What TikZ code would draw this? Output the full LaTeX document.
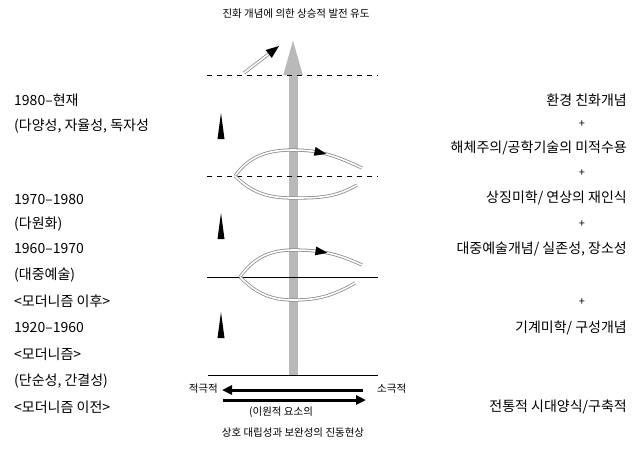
\documentclass[tikz,border=0pt]{standalone}
\usepackage{fontspec}
\setmainfont{Noto Sans CJK KR}
\usetikzlibrary{arrows.meta,decorations.markings}
\begin{document}
\begin{tikzpicture}[x=1pt,y=-1pt,
  lbl/.style={font=\fontsize{14}{16}\selectfont, inner sep=0pt, anchor=west},
  rlbl/.style={font=\fontsize{14}{16}\selectfont, inner sep=0pt, anchor=east},
  plus/.style={font=\fontsize{11}{12}\selectfont, inner sep=0pt},
  small/.style={font=\fontsize{10.5}{12}\selectfont, inner sep=0pt},
  loopline/.style={draw=gray!90, double=white, double distance=1.6pt, line width=0.8pt},
  headmark/.style={postaction={decorate, decoration={markings,
      mark=at position #1 with {\fill[black] (-6pt,-4.5pt) -- (6pt,0pt) -- (-6pt,4.5pt) -- cycle;}}}},
  endhead/.style={decoration={markings,
      mark=at position 1 with {\fill[black] (-13pt,-5pt) -- (0pt,0pt) -- (-13pt,5pt) -- cycle;}}, decorate},
  spike/.style={fill=black},
  dashln/.style={dash pattern=on 5pt off 5pt, line width=0.6pt},
  bigarrow/.style={line width=3pt, -{Triangle[length=10pt,width=9pt]}}
]
\useasboundingbox (0,0) rectangle (640,451);

% central shaft
\coordinate (base) at (293,375);
\coordinate (apex) at (293,33);
\draw[line width=9pt, gray!55, -{Triangle[length=42pt,width=16pt]}] (base) -- (apex);

% horizontal lines
\coordinate (d1l) at (207,75);  \coordinate (d1r) at (378,75);
\coordinate (d2l) at (207,176); \coordinate (d2r) at (378,176);
\coordinate (s1l) at (207,277); \coordinate (s1r) at (378,277);
\coordinate (s2l) at (208,375); \coordinate (s2r) at (378,375);
\draw[dashln] (d1l) -- (d1r);
\draw[dashln] (d2l) -- (d2r);
\draw[line width=0.7pt] (s1l) -- (s1r);
\draw[line width=0.8pt] (s2l) -- (s2r);

% small diagonal arrow at top
\coordinate (sa) at (244,73);
\coordinate (sb) at (279,46);
\draw[loopline, shorten >=10pt] (sa) -- (sb);
\path[endhead] (sa) -- (sb);

% upper loop
\coordinate (u0) at (235,176);
\draw[loopline, headmark=0.68] (u0) to[out=55,in=180] (293,150) to[out=0,in=155] (362,168);
\draw[loopline] (u0) to[out=-45,in=180] (293,198) to[out=0,in=-150] (357,185);

% lower loop
\coordinate (l0) at (240,277);
\draw[loopline, headmark=0.68] (l0) to[out=55,in=180] (293,250) to[out=0,in=155] (362,265);
\draw[loopline] (l0) to[out=-45,in=180] (293,300) to[out=0,in=-150] (355,283);

% spikes
\fill[spike] (221,113) -- (224.5,139) -- (217.5,139) -- cycle;
\fill[spike] (221,213) -- (224.5,239) -- (217.5,239) -- cycle;
\fill[spike] (221,312) -- (224.5,338) -- (217.5,338) -- cycle;

% bottom double arrows
\coordinate (b1s) at (363,390); \coordinate (b1e) at (222,390);
\coordinate (b2s) at (223,400); \coordinate (b2e) at (366,400);
\draw[bigarrow] (b1s) -- (b1e);
\draw[bigarrow] (b2s) -- (b2e);
\node[small, anchor=east] (jg) at (218,389) {적극적};
\node[small, anchor=west] (sg) at (377,389) {소극적};
\node[small] (bt1) at (281,412) {(이원적 요소의};
\node[small] (bt2) at (293,433) {상호 대립성과 보완성의 진동현상};

% top text
\node[small] (tt) at (296,14) {진화 개념에 의한 상승적 발전 유도};

% left labels
\node[lbl] (L1) at (14,100) {1980–현재};
\node[lbl] (L2) at (14,126) {(다양성, 자율성, 독자성};
\node[lbl] (L3) at (14,200) {1970–1980};
\node[lbl] (L4) at (14,224) {(다원화)};
\node[lbl] (L5) at (14,249) {1960–1970};
\node[lbl] (L6) at (14,275) {(대중예술)};
\node[lbl] (L7) at (14,301) {<모더니즘 이후>};
\node[lbl] (L8) at (14,328) {1920–1960};
\node[lbl] (L9) at (14,354) {<모더니즘>};
\node[lbl] (L10) at (14,381) {(단순성, 간결성)};
\node[lbl] (L11) at (14,407) {<모더니즘 이전>};

% right labels
\node[rlbl] (R1) at (627,100) {환경 친화개념};
\node[plus] (P1) at (582,124) {+};
\node[rlbl] (R2) at (627,148) {해체주의/공학기술의 미적수용};
\node[plus] (P2) at (582,173) {+};
\node[rlbl] (R3) at (627,198) {상징미학/ 연상의 재인식};
\node[plus] (P3) at (582,224) {+};
\node[rlbl] (R4) at (627,249) {대중예술개념/ 실존성, 장소성};
\node[plus] (P4) at (582,302) {+};
\node[rlbl] (R5) at (627,328) {기계미학/ 구성개념};
\node[rlbl] (R6) at (627,407) {전통적 시대양식/구축적};
\end{tikzpicture}
\end{document}
